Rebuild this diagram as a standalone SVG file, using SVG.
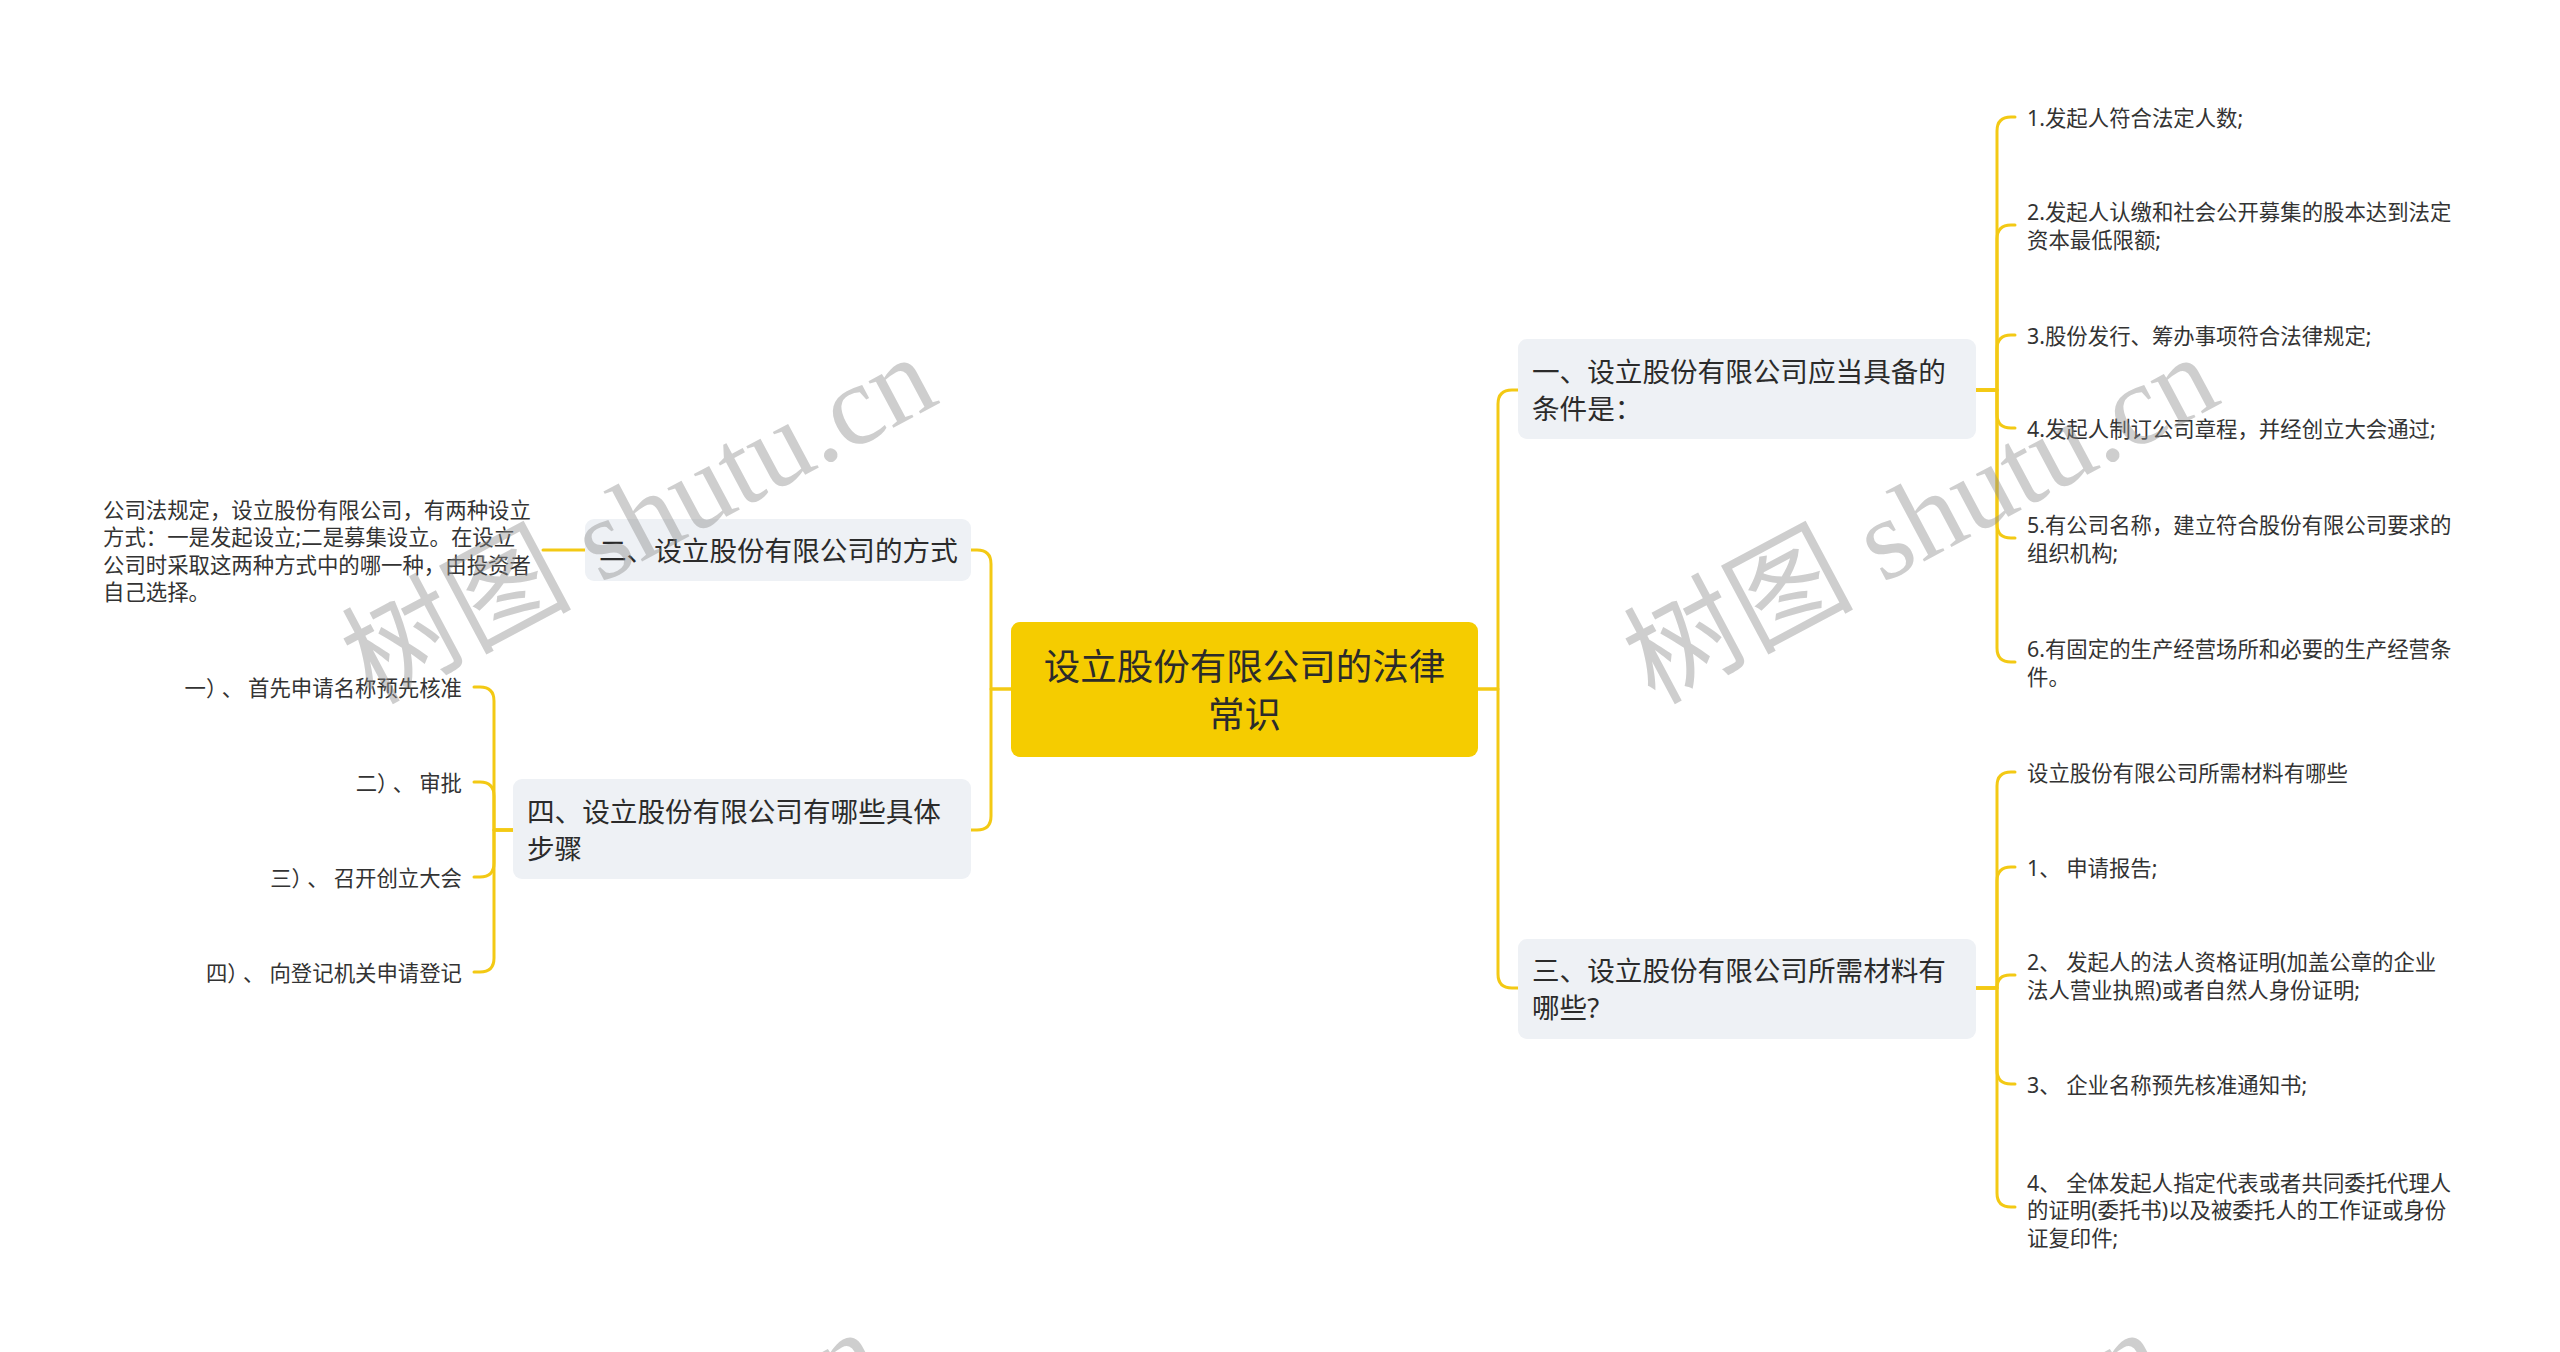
<svg xmlns="http://www.w3.org/2000/svg" width="2560" height="1352" viewBox="0 0 2560 1352">
<defs>
<style>
.bg{fill:#ffffff}
.conn{fill:none;stroke:#F3C914;stroke-width:3;stroke-linecap:round;stroke-linejoin:round}
.root{fill:#F5CC00}
.topic{fill:#EEF1F5}
.t-root{font-family:"Noto Sans","Noto Sans CJK SC",sans-serif;font-size:36.5px;fill:#2b2b2b;text-anchor:middle;dominant-baseline:central}
.t-topic{font-family:"Noto Sans","Noto Sans CJK SC",sans-serif;font-size:27.6px;fill:#2b2b2b;dominant-baseline:central}
.t-leaf{font-family:"Noto Sans","Noto Sans CJK SC",sans-serif;font-size:21.4px;fill:#333333;dominant-baseline:central}
.t-leaf-r{font-family:"Noto Sans","Noto Sans CJK SC",sans-serif;font-size:21.4px;fill:#333333;dominant-baseline:central;text-anchor:end}
.wm{font-family:"Liberation Serif","Noto Sans CJK SC",serif;font-size:115px;fill:#8c8c8c;opacity:0.42}
</style>
</defs>
<rect class="bg" x="0" y="0" width="2560" height="1352"/>

<g id="connectors">
<path class="conn" d="M1478 689 H1498 V404 Q1498 390 1512 390 H1518"/>
<path class="conn" d="M1478 689 H1498 V974 Q1498 988 1512 988 H1518"/>
<path class="conn" d="M1011 689 H991 V564 Q991 550 977 550 H971"/>
<path class="conn" d="M1011 689 H991 V816 Q991 830 977 830 H971"/>
<path class="conn" d="M1976 390 H1997 V131 Q1997 117 2011 117 H2015"/>
<path class="conn" d="M1976 390 H1997 V239 Q1997 225 2011 225 H2015"/>
<path class="conn" d="M1976 390 H1997 V349 Q1997 335 2011 335 H2015"/>
<path class="conn" d="M1976 390 H1997 V414 Q1997 428 2011 428 H2015"/>
<path class="conn" d="M1976 390 H1997 V524 Q1997 538 2011 538 H2015"/>
<path class="conn" d="M1976 390 H1997 V648 Q1997 662 2011 662 H2015"/>
<path class="conn" d="M1976 988 H1997 V786 Q1997 772 2011 772 H2015"/>
<path class="conn" d="M1976 988 H1997 V881 Q1997 867 2011 867 H2015"/>
<path class="conn" d="M1976 988 H1997 Q1997 975 2010 975 H2015"/>
<path class="conn" d="M1976 988 H1997 V1070 Q1997 1084 2011 1084 H2015"/>
<path class="conn" d="M1976 988 H1997 V1193 Q1997 1207 2011 1207 H2015"/>
<path class="conn" d="M585 550 H543"/>
<path class="conn" d="M513 830 H494 V701 Q494 687 480 687 H474"/>
<path class="conn" d="M513 830 H494 V796 Q494 782 480 782 H474"/>
<path class="conn" d="M513 830 H494 V863 Q494 877 480 877 H474"/>
<path class="conn" d="M513 830 H494 V958 Q494 972 480 972 H474"/>
</g>

<g id="root">
<rect class="root" x="1011" y="622" width="467" height="135" rx="9"/>
<text class="t-root" x="1244.5" y="665.5">设立股份有限公司的法律</text>
<text class="t-root" x="1244.5" y="713.5">常识</text>
</g>

<g id="topic1">
<rect class="topic" x="1518" y="339" width="458" height="100" rx="9"/>
<text class="t-topic" x="1532" y="370.5">一、设立股份有限公司应当具备的</text>
<text class="t-topic" x="1532" y="407.5">条件是：</text>
</g>

<g id="topic3">
<rect class="topic" x="1518" y="939" width="458" height="100" rx="9"/>
<text class="t-topic" x="1532" y="970">三、设立股份有限公司所需材料有</text>
<text class="t-topic" x="1532" y="1007">哪些?</text>
</g>

<g id="topic2">
<rect class="topic" x="585" y="519" width="386" height="62" rx="9"/>
<text class="t-topic" x="599" y="550">二、设立股份有限公司的方式</text>
</g>

<g id="topic4">
<rect class="topic" x="513" y="779" width="458" height="100" rx="9"/>
<text class="t-topic" x="527" y="810.5">四、设立股份有限公司有哪些具体</text>
<text class="t-topic" x="527" y="847.5">步骤</text>
</g>

<g id="leaf1-1"><text class="t-leaf" x="2027" y="117">1.发起人符合法定人数;</text></g>
<g id="leaf1-2"><text class="t-leaf" x="2027" y="211.5">2.发起人认缴和社会公开募集的股本达到法定</text><text class="t-leaf" x="2027" y="239">资本最低限额;</text></g>
<g id="leaf1-3"><text class="t-leaf" x="2027" y="335">3.股份发行、筹办事项符合法律规定;</text></g>
<g id="leaf1-4"><text class="t-leaf" x="2027" y="428">4.发起人制订公司章程，并经创立大会通过;</text></g>
<g id="leaf1-5"><text class="t-leaf" x="2027" y="524.5">5.有公司名称，建立符合股份有限公司要求的</text><text class="t-leaf" x="2027" y="552">组织机构;</text></g>
<g id="leaf1-6"><text class="t-leaf" x="2027" y="648.5">6.有固定的生产经营场所和必要的生产经营条</text><text class="t-leaf" x="2027" y="676">件。</text></g>

<g id="leaf3-1"><text class="t-leaf" x="2027" y="772">设立股份有限公司所需材料有哪些</text></g>
<g id="leaf3-2"><text class="t-leaf" x="2027" y="867">1、 申请报告;</text></g>
<g id="leaf3-3"><text class="t-leaf" x="2027" y="961.5">2、 发起人的法人资格证明(加盖公章的企业</text><text class="t-leaf" x="2027" y="989">法人营业执照)或者自然人身份证明;</text></g>
<g id="leaf3-4"><text class="t-leaf" x="2027" y="1084">3、 企业名称预先核准通知书;</text></g>
<g id="leaf3-5"><text class="t-leaf" x="2027" y="1182">4、 全体发起人指定代表或者共同委托代理人</text><text class="t-leaf" x="2027" y="1209.5">的证明(委托书)以及被委托人的工作证或身份</text><text class="t-leaf" x="2027" y="1237">证复印件;</text></g>

<g id="leaf2-1">
<text class="t-leaf" x="103" y="509">公司法规定，设立股份有限公司，有两种设立</text>
<text class="t-leaf" x="103" y="536.5">方式：一是发起设立;二是募集设立。在设立</text>
<text class="t-leaf" x="103" y="564">公司时采取这两种方式中的哪一种，由投资者</text>
<text class="t-leaf" x="103" y="591.5">自己选择。</text>
</g>

<g id="leaf4-1"><text class="t-leaf-r" x="462" y="687">一）<tspan dx="5">、</tspan><tspan dx="5">首先申请名称预先核准</tspan></text></g>
<g id="leaf4-2"><text class="t-leaf-r" x="462" y="782">二）<tspan dx="5">、</tspan><tspan dx="5">审批</tspan></text></g>
<g id="leaf4-3"><text class="t-leaf-r" x="462" y="877">三）<tspan dx="5">、</tspan><tspan dx="5">召开创立大会</tspan></text></g>
<g id="leaf4-4"><text class="t-leaf-r" x="462" y="972">四）<tspan dx="5">、</tspan><tspan dx="5">向登记机关申请登记</tspan></text></g>

<g id="watermarks">
<text class="wm" transform="translate(372 705) rotate(-28)">树图 shutu.cn</text>
<text class="wm" transform="translate(1654 705) rotate(-28)">树图 shutu.cn</text>
<text class="wm" transform="translate(318 1680) rotate(-28)">树图 shutu.cn</text>
<text class="wm" transform="translate(1600 1680) rotate(-28)">树图 shutu.cn</text>
</g>
</svg>
